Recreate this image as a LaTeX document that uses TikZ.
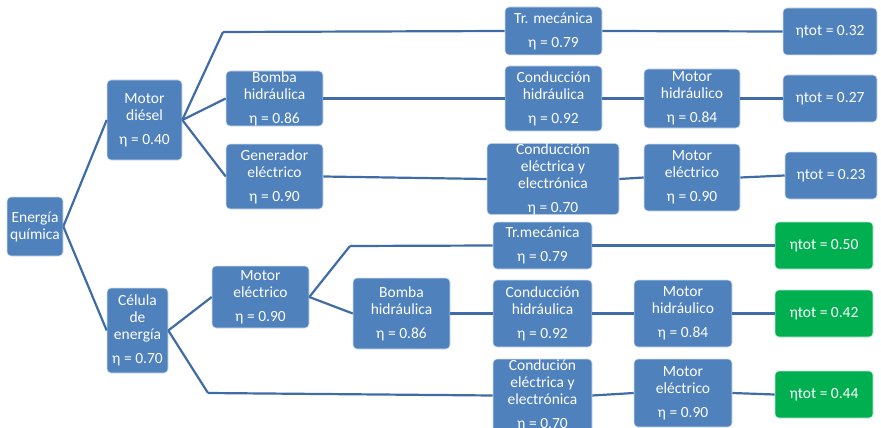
\documentclass[tikz,border=0pt]{standalone}
\usepackage{fontspec}
\setmainfont{Carlito}
\definecolor{boxblue}{HTML}{4F81BD}
\definecolor{linkblue}{HTML}{3F6CA6}
\definecolor{totgreen}{HTML}{00B050}
\begin{document}
\begin{tikzpicture}[x=1pt,y=-1pt,
blk/.style={draw=white!75!boxblue,line width=0.6pt,fill=boxblue,
rounded corners=4pt,text=white,align=center,inner sep=0pt,
font=\fontsize{15.5}{17}\selectfont},
tot/.style={blk,fill=totgreen,draw=white!75!totgreen},
link/.style={draw=linkblue,line width=2.2pt}]
\useasboundingbox (0,0) rectangle (881,428);
% source and first stage
\node[blk,minimum width=56pt,minimum height=59pt] (E) at (35,226.5) {Energía\\química};
\node[blk,minimum width=75pt,minimum height=80pt] (MD) at (144.5,120) {Motor\\diésel\\[7pt]η = 0.40};
\node[blk,minimum width=61pt,minimum height=85pt] (CE) at (137.5,330.5) {Célula\\de\\energía\\[7pt]η = 0.70};
% diesel branch
\node[blk,minimum width=97pt,minimum height=55pt] (BH1) at (274.5,98.5) {Bomba\\hidráulica\\[7pt]η = 0.86};
\node[blk,minimum width=97pt,minimum height=65pt] (GE) at (274.5,176.5) {Generador\\eléctrico\\[7pt]η = 0.90};
\node[blk,minimum width=97pt,minimum height=48pt] (TM1) at (553.5,31) {Tr. mecánica\\[7pt]η = 0.79};
\node[blk,minimum width=97pt,minimum height=65pt] (CH1) at (553.5,98.5) {Conducción\\hidráulica\\[7pt]η = 0.92};
\node[blk,minimum width=132pt,minimum height=70pt] (CEE1) at (553,179) {Conducción\\eléctrica y\\electrónica\\[7pt]η = 0.70};
\node[blk,minimum width=96pt,minimum height=59pt] (MH1) at (692,98.5) {Motor\\hidráulico\\[7pt]η = 0.84};
\node[blk,minimum width=96pt,minimum height=67pt] (ME1) at (692,177.5) {Motor\\eléctrico\\[7pt]η = 0.90};
\node[blk,minimum width=94pt,minimum height=47pt] (T1) at (830,31.5) {ηtot = 0.32};
\node[blk,minimum width=94pt,minimum height=47pt] (T2) at (830,98.5) {ηtot = 0.27};
\node[blk,minimum width=92pt,minimum height=47pt] (T3) at (831,175.5) {ηtot = 0.23};
% fuel cell branch
\node[blk,minimum width=97pt,minimum height=62pt] (ME2) at (260.5,297) {Motor\\eléctrico\\[7pt]η = 0.90};
\node[blk,minimum width=97pt,minimum height=71pt] (BH2) at (401.5,313.5) {Bomba\\hidráulica\\[7pt]η = 0.86};
\node[blk,minimum width=99pt,minimum height=47pt] (TM2) at (542.5,245.5) {Tr.mecánica\\[7pt]η = 0.79};
\node[blk,minimum width=99pt,minimum height=67pt] (CH2) at (542.5,313.5) {Conducción\\hidráulica\\[7pt]η = 0.92};
\node[blk,minimum width=99pt,minimum height=73pt] (CEE2) at (542.5,395.5) {Condución\\eléctrica y\\electrónica\\[7pt]η = 0.70};
\node[blk,minimum width=98pt,minimum height=67pt] (MH2) at (683,313.5) {Motor\\hidráulico\\[7pt]η = 0.84};
\node[blk,minimum width=98pt,minimum height=68pt] (ME3) at (683,393) {Motor\\eléctrico\\[7pt]η = 0.90};
\node[tot,minimum width=98pt,minimum height=47pt] (T4) at (824,245.5) {ηtot = 0.50};
\node[tot,minimum width=98pt,minimum height=47pt] (T5) at (824,313.5) {ηtot = 0.42};
\node[tot,minimum width=98pt,minimum height=47pt] (T6) at (824,394.5) {ηtot = 0.44};
% free ends of the branches
\coordinate (b1) at (223,32);
\coordinate (b2) at (208,393);
\coordinate (b3) at (350,246);
% connectors
\draw[link] (E.east) -- (MD.west);
\draw[link] (E.east) -- (CE.west);
\draw[link] (MD.east) -- (b1);
\draw[link] (MD.east) -- (BH1.west);
\draw[link] (MD.east) -- (GE.west);
\draw[link] (b1) -- (TM1.west);
\draw[link] (TM1.east) -- (T1.west);
\draw[link] (BH1.east) -- (CH1.west);
\draw[link] (CH1.east) -- (MH1.west);
\draw[link] (MH1.east) -- (T2.west);
\draw[link] (GE.east) -- (CEE1.west);
\draw[link] (CEE1.east) -- (ME1.west);
\draw[link] (ME1.east) -- (T3.west);
\draw[link] (CE.east) -- (ME2.west);
\draw[link] (CE.east) -- (b2);
\draw[link] (ME2.east) -- (b3);
\draw[link] (ME2.east) -- (BH2.west);
\draw[link] (b3) -- (TM2.west);
\draw[link] (TM2.east) -- (T4.west);
\draw[link] (BH2.east) -- (CH2.west);
\draw[link] (CH2.east) -- (MH2.west);
\draw[link] (MH2.east) -- (T5.west);
\draw[link] (b2) -- (CEE2.west);
\draw[link] (CEE2.east) -- (ME3.west);
\draw[link] (ME3.east) -- (T6.west);
\end{tikzpicture}
\end{document}
